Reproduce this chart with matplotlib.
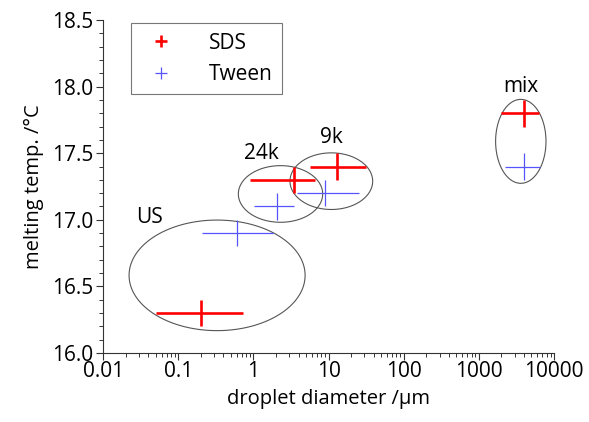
import numpy as np
import matplotlib.pyplot as plt
from matplotlib.lines import Line2D
from matplotlib.ticker import FixedLocator, FixedFormatter, LogLocator, MultipleLocator, FormatStrFormatter

plt.rcParams['font.family'] = ['Open Sans', 'DejaVu Sans']
plt.rcParams['lines.solid_capstyle'] = 'butt'

# droplet diameter (um) and melting temperature (degC); order: US, 24k, 9k, mix
sds_d = [0.2, 3.5, 12.8, 4000]
sds_d_lo = [0.05, 0.9, 5.7, 2000]
sds_d_hi = [0.73, 6.6, 31.6, 6400]
sds_t = [16.3, 17.3, 17.4, 17.8]
sds_terr = [0.1, 0.1, 0.1, 0.1]

tween_d = [0.61, 2.07, 9.0, 4000]
tween_d_lo = [0.21, 1.03, 3.8, 2200]
tween_d_hi = [1.85, 3.5, 25.5, 6500]
tween_t = [16.9, 17.1, 17.2, 17.4]
tween_terr = [0.1, 0.1, 0.1, 0.1]

# grouping ellipses: label, log10 centre, log10 half width, temp centre, temp half height
groups = ['US', '24k', '9k', 'mix']
ell_logx = [-0.483, 0.361, 1.037, 3.558]
ell_logw = [1.171, 0.561, 0.55, 0.335]
ell_y = [16.583, 17.194, 17.29, 17.589]
ell_h = [0.415, 0.2125, 0.2125, 0.315]
label_x = [0.041, 1.27, 10.8, 3640]
label_y = [17.02, 17.50, 17.62, 18.0]

fig = plt.figure(figsize=(5.89, 4.22), dpi=100)
ax = fig.add_axes([0.175, 0.1635, 0.7656, 0.7891])

red = '#ff0000'
blue = '#5555ff'

def xerr(d, lo, hi):
    d = np.array(d); return [d - np.array(lo), np.array(hi) - d]

ax.errorbar(sds_d, sds_t, xerr=xerr(sds_d, sds_d_lo, sds_d_hi), yerr=sds_terr,
            fmt='none', ecolor=red, elinewidth=1.9, capsize=0, zorder=3)
ax.errorbar(tween_d, tween_t, xerr=xerr(tween_d, tween_d_lo, tween_d_hi), yerr=tween_terr,
            fmt='none', ecolor=blue, elinewidth=0.9, capsize=0, zorder=3)

# closed outlines so there is no seam where the curve starts
t = np.linspace(0, 2 * np.pi, 360, endpoint=False)
for g, lx, lw, cy, h, tx, ty in zip(groups, ell_logx, ell_logw, ell_y, ell_h, label_x, label_y):
    ax.fill(10 ** (lx + lw * np.cos(t)), cy + h * np.sin(t), fill=False,
            edgecolor='#555555', lw=0.8, zorder=2)
    ax.text(tx, ty, g, fontsize=15, ha='center', va='center')

ax.set_xscale('log')
ax.set_xlim(0.01, 10000)
ax.set_ylim(16.0, 18.5)
xt = [0.01, 0.1, 1, 10, 100, 1000, 10000]
ax.xaxis.set_major_locator(FixedLocator(xt))
ax.xaxis.set_major_formatter(FixedFormatter(['0.01', '0.1', '1', '10', '100', '1000', '10000']))
ax.xaxis.set_minor_locator(LogLocator(base=10, subs=np.arange(2, 10)))
ax.yaxis.set_major_locator(MultipleLocator(0.5))
ax.yaxis.set_minor_locator(MultipleLocator(0.1))
ax.yaxis.set_major_formatter(FormatStrFormatter('%.1f'))

for s in ['top', 'right']:
    ax.spines[s].set_visible(False)
for s in ['left', 'bottom']:
    ax.spines[s].set_color('#333333')
ax.tick_params(which='major', direction='out', length=5, width=0.8, labelsize=15, color='#333333')
ax.tick_params(which='minor', direction='out', length=3, width=0.7, color='#333333')
ax.tick_params(axis='x', pad=1)
ax.tick_params(axis='y', pad=2)

ax.set_xlabel('droplet diameter /\u03bcm', fontsize=14.5, labelpad=5)
ax.set_ylabel('melting temp. /\u00b0C', fontsize=14.5, labelpad=6)

handles = [Line2D([], [], ls='none', marker='+', color=red, markersize=9, mew=1.9),
           Line2D([], [], ls='none', marker='+', color=blue, markersize=9, mew=0.9)]
leg = ax.legend(handles, ['SDS', 'Tween'], loc='upper left', bbox_to_anchor=(0.062, 0.99),
                fontsize=15, frameon=True, fancybox=False, edgecolor='#555555',
                handletextpad=1.3, borderpad=0.45, labelspacing=0.5, borderaxespad=0)
leg.get_frame().set_linewidth(0.8)

fig.savefig('out.png', dpi=100)
